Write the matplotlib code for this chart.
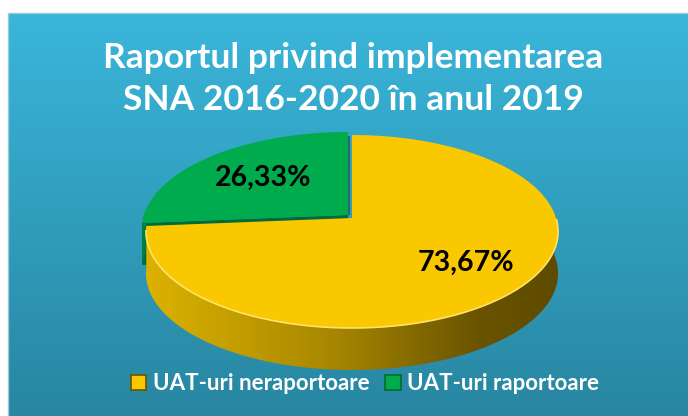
import numpy as np
import matplotlib.pyplot as plt
from matplotlib.patches import Polygon, Patch, Rectangle
from matplotlib.colors import LinearSegmentedColormap

# data
labels = ['UAT-uri neraportoare', 'UAT-uri raportoare']
values = [73.67, 26.33]
pct_text = ['73,67%', '26,33%']
colors = ['#FAC800', '#00AB4E']
dark_colors = ['#6A5400', '#006B35']
title_lines = ['Raportul privind implementarea', 'SNA 2016-2020 în anul 2019']

W, H = 688, 416
fig = plt.figure(figsize=(6.88, 4.16), dpi=100)
ax = fig.add_axes([0, 0, 1, 1])
ax.set_xlim(0, W)
ax.set_ylim(H, 0)
ax.axis('off')

# chart area background with vertical gradient
bg = LinearSegmentedColormap.from_list('bg', ['#3AB6DA', '#2886A1'])
grad = np.linspace(0, 1, 256).reshape(-1, 1)
ax.imshow(grad, cmap=bg, extent=[8, W, H, 13], aspect='auto', zorder=0)
ax.add_patch(Rectangle((8, 13), W, H, fill=False, ec='#9cc8d6', lw=1, zorder=1))

# pie geometry (pixel space), simple perspective for the tilted disc
cx, cy, A, B, k = 352, 218, 204, 94.6, 0.14
depth = 42
explode_off = [(0, 0), (-4, -3)]


def rim(t, ox=0, oy=0):
    u, v = np.cos(t), np.sin(t)
    s = 1 + k * v
    return cx + A * u / s + ox, cy - B * v / s + oy


# angles, clockwise from 12 o'clock
fracs = np.array(values) / sum(values)
starts = np.radians(90 - 360 * np.concatenate([[0], np.cumsum(fracs)[:-1]]))
ends = np.radians(90 - 360 * np.cumsum(fracs))
t_edge = ends[0]  # yellow / green boundary

# green cut face and small visible side (exploded slice)
ox, oy = explode_off[1]
x0, y0 = rim(t_edge, ox, oy)
cut = [(cx + ox, cy + oy), (x0, y0), (x0, y0 + depth), (cx + ox, cy + oy + depth)]
ax.add_patch(Polygon(cut, closed=True, fc=dark_colors[1], ec='none', zorder=2))
tg = np.linspace(np.pi - 0.05, 2 * np.pi + t_edge, 10)
xs, ys = rim(tg, ox, oy)
side_g = list(zip(xs, ys)) + list(zip(xs[::-1], ys[::-1] + depth))
ax.add_patch(Polygon(side_g, closed=True, fc='#00803C', ec='none', zorder=2))

# yellow side with horizontal gradient
ty = np.linspace(2 * np.pi + t_edge, 2 * np.pi + 0.05, 200)
xs, ys = rim(ty)
side_y = list(zip(xs, ys)) + list(zip(xs[::-1], ys[::-1] + depth))
side_patch = Polygon(side_y, closed=True, fc='none', ec='none', zorder=3)
ax.add_patch(side_patch)
side_cmap = LinearSegmentedColormap.from_list(
    'side', [(0, '#DDB300'), (0.45, '#A88700'), (0.8, '#6A5400'), (1, '#5E4A00')])
hgrad = np.linspace(0, 1, 256).reshape(1, -1)
im = ax.imshow(hgrad, cmap=side_cmap, extent=[cx - A - 5, cx + A + 5, 390, 200],
               aspect='auto', zorder=3)
im.set_clip_path(side_patch)

# top faces
for i, (t0, t1) in enumerate(zip(starts, ends)):
    ox, oy = explode_off[i]
    tt = np.linspace(t0, t1, 200)
    xs, ys = rim(tt, ox, oy)
    pts = [(cx + ox, cy + oy)] + list(zip(xs, ys))
    ax.add_patch(Polygon(pts, closed=True, fc=colors[i], ec='none', zorder=4))

# thin shadow between slices at 12 o'clock
xt, yt = rim(np.pi / 2)
ax.plot([cx - 3, xt - 3], [cy - 4, yt + 2], color='#2c6b5c', lw=1.5, zorder=4)
# light rim along the front edge of the yellow top
tf = np.linspace(2 * np.pi + t_edge + 0.05, 2 * np.pi - 0.02, 200)
xs, ys = rim(tf)
ax.plot(xs, ys, color='#FFE36A', lw=1.2, zorder=5)

# percentage labels
label_pos = [(466, 263), (263, 178)]
for (lx, ly), txt in zip(label_pos, pct_text):
    ax.text(lx, ly, txt, ha='center', va='center', fontsize=20.5,
            fontweight='bold', family='Lato', color='black', zorder=6)

# title
for ty_, line in zip([58, 100], title_lines):
    ax.text(353, ty_, line, ha='center', va='center', fontsize=25.5,
            fontweight='bold', family='Lato', color='white', zorder=6)

# legend
handles = [Patch(fc=colors[i], ec=dark_colors[i], lw=1.2) for i in range(len(labels))]
ax.legend(handles, labels, loc='center', bbox_to_anchor=(0.5305, 0.077), ncol=2,
          frameon=False, labelcolor='white', handlelength=0.7, handleheight=0.7,
          handletextpad=0.3, columnspacing=0.7,
          prop={'family': 'Lato', 'weight': 'bold', 'size': 16})

fig.savefig('out.png', dpi=100, facecolor='white')
